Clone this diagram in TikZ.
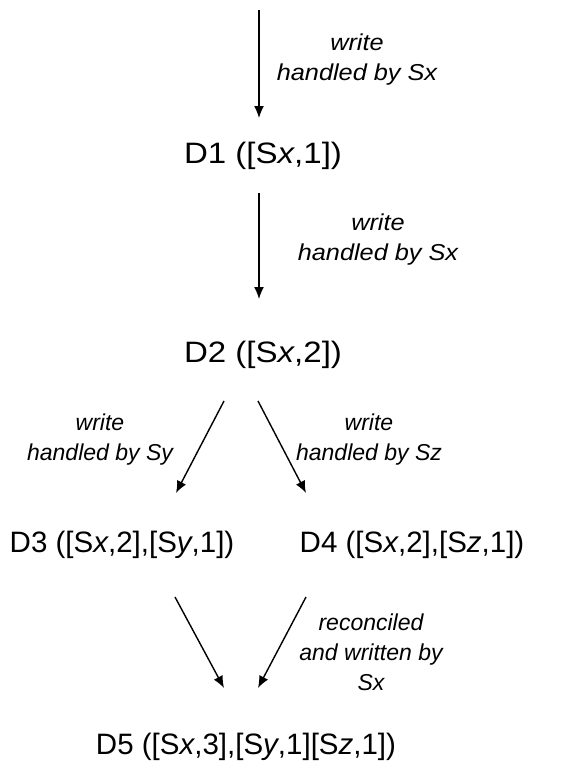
\documentclass[tikz,border=0pt]{standalone}
\usepackage{fontspec}
\setmainfont{Liberation Sans}
\usetikzlibrary{arrows.meta}
\begin{document}
\begin{tikzpicture}[x=1pt,y=-1pt,
  state/.style={font=\fontsize{29.5}{36}\selectfont, inner sep=0pt, anchor=base},
  lbl/.style={font=\fontsize{23}{30}\selectfont\itshape, align=center, inner sep=0pt},
  arr/.style={line width=1.4pt, -{Latex[length=12pt,width=10pt]}}]
\useasboundingbox (0,0) rectangle (577,763);
% nodes
\node[state] (D1) at (263,163) {\scalebox{1.12}[1]{D1 ([S\textit{x},1])}};
\node[state] (D2) at (263,362) {\scalebox{1.12}[1]{D2 ([S\textit{x},2])}};
\node[state] (D3) at (122,552) {D3 ([S\textit{x},2],[S\textit{y},1])};
\node[state] (D4) at (412,552) {D4 ([S\textit{x},2],[S\textit{z},1])};
\node[state] (D5) at (246,754) {D5 ([S\textit{x},3],[S\textit{y},1][S\textit{z},1])};
% arrow end points
\coordinate (a0s) at (259,10);
\coordinate (a0e) at (259,118);
\coordinate (a1s) at (259,193);
\coordinate (a1e) at (259,299);
\coordinate (a2s) at (224,401);
\coordinate (a2e) at (176,493);
\coordinate (a3s) at (258,401);
\coordinate (a3e) at (306,493);
\coordinate (a4s) at (175,597);
\coordinate (a4e) at (224,688);
\coordinate (a5s) at (306,597);
\coordinate (a5e) at (258,688);
\draw[arr] (a0s) -- (a0e);
\draw[arr] (a1s) -- (a1e);
\draw[arr] (a2s) -- (a2e);
\draw[arr] (a3s) -- (a3e);
\draw[arr] (a4s) -- (a4e);
\draw[arr] (a5s) -- (a5e);
% labels
\node[lbl] (L0) at (357,60) {\scalebox{1.1}[1]{write}\\\scalebox{1.1}[1]{handled by Sx}};
\node[lbl] (L1) at (378,240) {\scalebox{1.1}[1]{write}\\\scalebox{1.1}[1]{handled by Sx}};
\node[lbl] (L2) at (100,440) {write\\handled by Sy};
\node[lbl] (L3) at (369,440) {write\\handled by Sz};
\node[lbl] (L4) at (371,652) {reconciled\\and written by\\Sx};
\end{tikzpicture}
\end{document}
